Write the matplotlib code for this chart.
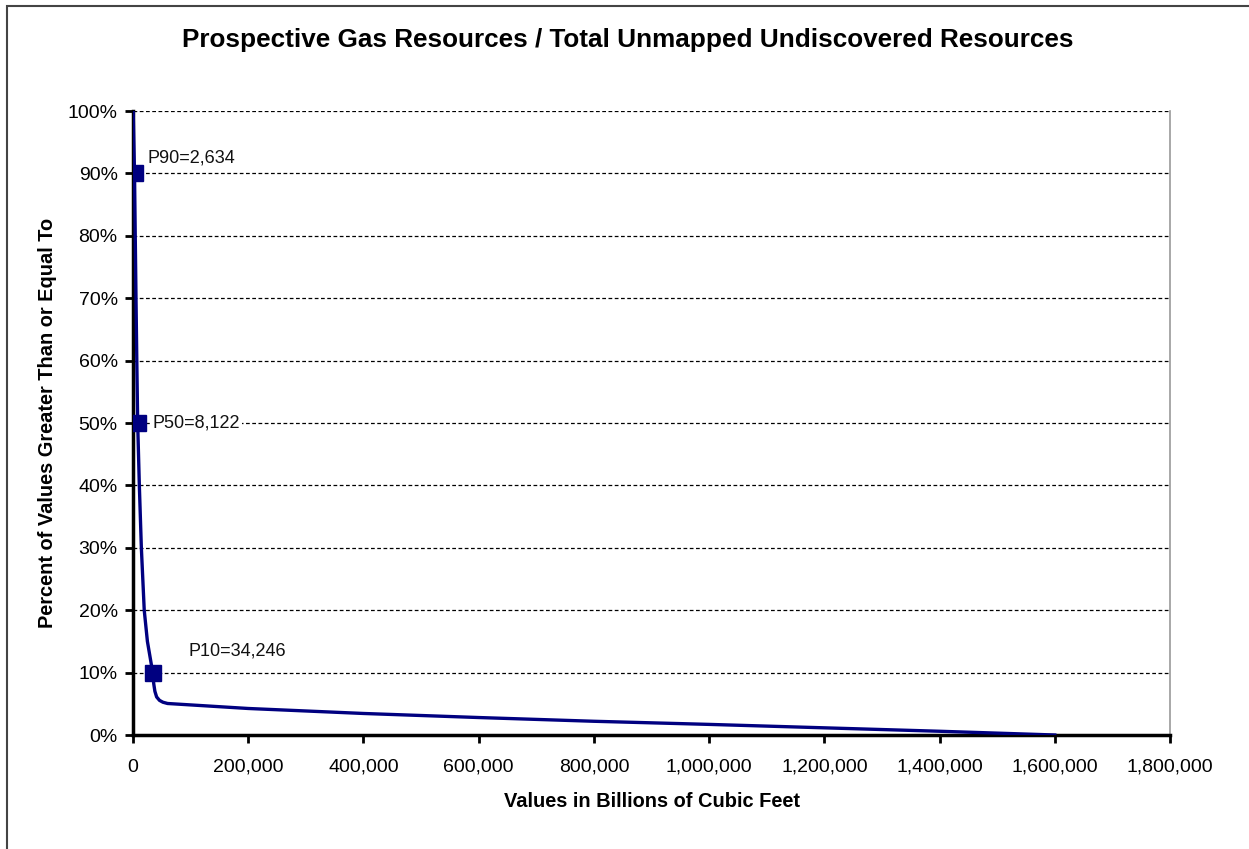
import matplotlib
matplotlib.use("Agg")
import matplotlib.pyplot as plt
from matplotlib.patches import Rectangle
from matplotlib.ticker import FuncFormatter
from matplotlib import font_manager

plt.rcParams['font.family'] = ['Liberation Sans', 'DejaVu Sans']

# Data (values in billions of cubic feet, percent >=)
curve_x = [300, 1200, 2634, 3900, 5200, 6600, 8122, 11000, 14500, 19500, 25000,
           34246, 36000, 38000, 41000, 46000, 52000, 60000, 200000, 400000,
           600000, 800000, 1000000, 1200000, 1400000, 1600000]
curve_y = [100, 96, 90, 80, 70, 60, 50, 40, 30, 20, 15,
           10, 8.2, 7.0, 6.1, 5.55, 5.25, 5.05, 4.25, 3.45,
           2.8, 2.2, 1.7, 1.15, 0.6, 0.0]
marker_x = [2634, 8122, 34246]
marker_y = [90, 50, 10]
marker_labels = ["P90=2,634", "P50=8,122", "P10=34,246"]
label_x = [26000, 34000, 97000]
label_y = [92.4, 50, 13.4]
x_ticks = [0, 200000, 400000, 600000, 800000, 1000000, 1200000, 1400000, 1600000, 1800000]
y_ticks = [0, 10, 20, 30, 40, 50, 60, 70, 80, 90, 100]

# narrow font for axis titles if available
names = {f.name for f in font_manager.fontManager.ttflist}
if 'Liberation Sans Narrow' in names:
    lab_family = ['Liberation Sans Narrow', 'DejaVu Sans']
    lab_size = 17.5
else:
    lab_family = ['Liberation Sans', 'DejaVu Sans']
    lab_size = 14.4

W, H = 1249, 849
fig = plt.figure(figsize=(W / 100, H / 100), dpi=100)
ax = fig.add_axes([133 / W, 1 - 735 / H, (1170 - 133) / W, (735 - 111) / H])

# outer frame (top and left visible)
fig.patches.append(Rectangle((7 / W, -0.1), 1.2, 1 - 6 / H + 0.1, transform=fig.transFigure,
                             fill=False, edgecolor='#444444', linewidth=1.5))

navy = '#000080'
ax.plot(curve_x, curve_y, color=navy, linewidth=2.4, zorder=3, solid_joinstyle='round')
ax.plot(marker_x, marker_y, linestyle='none', marker='s', markersize=11,
        color=navy, zorder=4)

for lx, ly, t in zip(label_x, label_y, marker_labels):
    bbox = dict(facecolor='white', edgecolor='none', pad=1.5) if ly == 50 else None
    ax.text(lx, ly, t, fontsize=13, va='center', ha='left', color='#111111',
            bbox=bbox, zorder=5)

ax.set_xlim(0, 1800000)
ax.set_ylim(0, 100)
ax.set_xticks(x_ticks)
ax.set_yticks(y_ticks)
ax.xaxis.set_major_formatter(FuncFormatter(lambda v, p: f"{int(v):,}"))
ax.yaxis.set_major_formatter(FuncFormatter(lambda v, p: f"{int(v)}%"))
ax.tick_params(axis='both', direction='out', length=6, width=2, labelsize=14,
               colors='black')
ax.tick_params(axis='x', pad=11)
ax.tick_params(axis='y', pad=5)

ax.grid(axis='y', color='black', linestyle=(0, (3, 2)), linewidth=0.9)
ax.set_axisbelow(True)
for s in ['left', 'bottom']:
    ax.spines[s].set_linewidth(2.5)
    ax.spines[s].set_color('black')
ax.spines['top'].set_visible(False)
ax.spines['right'].set_color('#999999')
ax.spines['right'].set_linewidth(1.2)

ax.set_xlabel("Values in Billions of Cubic Feet", fontsize=lab_size, fontweight='bold',
              family=lab_family, labelpad=12)
ax.set_ylabel("Percent of Values Greater Than or Equal To", fontsize=lab_size,
              fontweight='bold', family=lab_family, labelpad=8)

fig.text(0.5 + 3 / W, 1 - 40 / H,
         "Prospective Gas Resources / Total Unmapped Undiscovered Resources",
         ha='center', va='center', fontsize=18.8, fontweight='bold')

fig.savefig("out.png", dpi=100)
